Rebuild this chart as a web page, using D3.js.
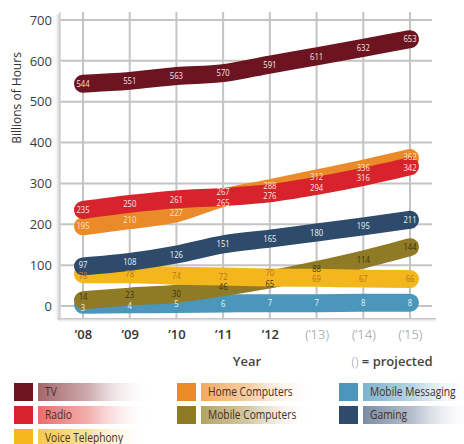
<!DOCTYPE html>
<html><head><meta charset="utf-8">
<script src="https://cdn.jsdelivr.net/npm/d3@7"></script>
<style>
body{margin:0;background:#fff;}
svg{display:block;}
</style></head>
<body>
<svg id="c" width="464" height="444"></svg>
<script>
const years = ["'08","'09","'10","'11","'12","'13","'14","'15"];
const yearLabels = ["\u201908","\u201909","\u201910","\u201911","\u201912","(\u201913)","(\u201914)","(\u201915)"];
const projected = [false,false,false,false,false,true,true,true];
const yTicks = [0,100,200,300,400,500,600,700];

const seriesNames = ["Mobile Messaging","Mobile Computers","Voice Telephony","Gaming","Home Computers","Radio","TV"];
const tv = [544,551,563,570,591,611,632,653];
const radio = [235,250,261,267,276,294,316,342];
const homeComputers = [195,210,227,265,288,312,336,362];
const gaming = [97,108,126,151,165,180,195,211];
const voiceTelephony = [78,78,74,72,70,69,67,66];
const mobileComputers = [14,23,30,46,65,88,114,144];
const mobileMessaging = [3,4,5,6,7,7,8,8];

const colors = {"TV":"#6c1520","Radio":"#d8232d","Home Computers":"#ea8a28","Gaming":"#2e4b6c",
  "Voice Telephony":"#f3b61c","Mobile Computers":"#8f7b25","Mobile Messaging":"#4a97bb"};
const tints = {"TV":"#a5676b","Radio":"#e96e6c","Home Computers":"#f2ab62","Gaming":"#7b8da6",
  "Voice Telephony":"#f6ca4e","Mobile Computers":"#b3a464","Mobile Messaging":"#7db3cf"};
const labelColors = {"TV":"#f3e6e6","Radio":"#fbe3e3","Home Computers":"#fde7cf","Gaming":"#eef2f7",
  "Voice Telephony":"#b8741e","Mobile Computers":"#3b3310","Mobile Messaging":"#e8f3f8"};

const valuesByName = {"TV":tv,"Radio":radio,"Home Computers":homeComputers,"Gaming":gaming,
  "Voice Telephony":voiceTelephony,"Mobile Computers":mobileComputers,"Mobile Messaging":mobileMessaging};

const legendCols = [["TV","Radio","Voice Telephony"],["Home Computers","Mobile Computers"],["Mobile Messaging","Gaming"]];

const svg = d3.select("#c");
const defs = svg.append("defs");
const x = d3.scalePoint().domain(years).range([83,410]);
const y = d3.scaleLinear().domain([0,700]).range([306,20]);

const font = "'Open Sans', 'Noto Sans', sans-serif";
const narrow = "'Open Sans','Noto Sans',sans-serif";

const blur = defs.append("filter").attr("id","soft");
blur.append("feGaussianBlur").attr("stdDeviation",0.5);

const lg = defs.append("linearGradient").attr("id","lsh").attr("x1","0").attr("x2","1");
lg.append("stop").attr("offset","0").attr("stop-color","#fff").attr("stop-opacity",0);
lg.append("stop").attr("offset","1").attr("stop-color","#c0c0c0");
const bg = defs.append("linearGradient").attr("id","bsh").attr("x1","0").attr("x2","0").attr("y1","0").attr("y2","1");
bg.append("stop").attr("offset","0").attr("stop-color","#b8b8b8");
bg.append("stop").attr("offset","1").attr("stop-color","#fff").attr("stop-opacity",0);

svg.append("rect").attr("x",54).attr("y",14).attr("width",6).attr("height",306).attr("fill","url(#lsh)");
svg.append("rect").attr("x",58).attr("y",318).attr("width",378).attr("height",5).attr("fill","url(#bsh)");

const grid = svg.append("g").attr("filter","url(#soft)");
grid.selectAll("line.h").data(yTicks).join("line")
  .attr("x1",60).attr("x2",432).attr("y1",d=>y(d)).attr("y2",d=>y(d))
  .attr("stroke","#c4c4c4").attr("stroke-width",2);
grid.selectAll("line.v").data(years).join("line")
  .attr("x1",d=>x(d)).attr("x2",d=>x(d)).attr("y1",12).attr("y2",318)
  .attr("stroke","#c4c4c4").attr("stroke-width",2);
svg.append("line").attr("x1",60).attr("x2",60).attr("y1",12).attr("y2",320).attr("stroke","#d0d0d0").attr("stroke-width",1.5);

const yAxis = d3.axisLeft(y).tickValues(yTicks).tickSize(0).tickPadding(0);
const ya = svg.append("g").attr("transform","translate(52,0)").call(yAxis);
ya.select(".domain").remove();
ya.selectAll("text").attr("font-family",font).attr("font-size",13).attr("fill","#3d3d3d");

svg.append("text").attr("transform","translate(21,98) rotate(-90)").attr("text-anchor","middle")
  .attr("font-family",font).attr("font-size",12).attr("fill","#333").text("Billions of Hours");

const xAxis = d3.axisBottom(x).tickSize(0).tickPadding(0).tickFormat((d,i)=>yearLabels[i]);
const xa = svg.append("g").attr("transform","translate(0,330)").call(xAxis);
xa.select(".domain").remove();
xa.selectAll("text").attr("font-family",font).attr("font-size",13)
  .attr("fill",(d,i)=>projected[i]?"#8a8a8a":"#333")
  .attr("font-weight",(d,i)=>projected[i]?300:600);

svg.append("text").attr("x",247).attr("y",366).attr("text-anchor","middle").attr("font-family",font)
  .attr("font-size",13).attr("font-weight",600).attr("fill","#444").text("Year");
const pj = svg.append("text").attr("x",392).attr("y",366).attr("text-anchor","middle").attr("font-family",font)
  .attr("font-size",13).attr("font-weight",600).attr("fill","#444");
pj.append("tspan").attr("fill","#999").attr("font-weight",300).text("()");
pj.append("tspan").text(" = projected");

const line = d3.line().x((d,i)=>x(years[i])).y(d=>y(d)).curve(d3.curveMonotoneX);
const bands = svg.append("g");
seriesNames.forEach(name=>{
  bands.append("path").datum(valuesByName[name]).attr("d",line)
    .attr("fill","none").attr("stroke",colors[name]).attr("stroke-width",18)
    .attr("stroke-linecap","round").attr("stroke-linejoin","round");
});

const minGap = 10.5;
const labels = [];
years.forEach((yr,i)=>{
  const col = seriesNames.map(name=>({name, v:valuesByName[name][i], x:x(yr), y:y(valuesByName[name][i])}));
  col.sort((a,b)=>a.y-b.y);
  for(let pass=0;pass<4;pass++){
    for(let k=1;k<col.length;k++){
      const gap = col[k].y - col[k-1].y;
      if(gap < minGap){ const d=(minGap-gap)/2; col[k-1].y-=d; col[k].y+=d; }
    }
  }
  labels.push(...col);
});
svg.append("g").selectAll("text").data(labels).join("text")
  .attr("transform",d=>`translate(${d.x},${d.y}) scale(0.85,1)`).attr("dy","0.35em").attr("text-anchor","middle")
  .attr("font-family",narrow).attr("font-size",9).attr("fill",d=>labelColors[d.name]).text(d=>d.v);

const colX = [14,177,339];
const rowY = [383,406,429];
legendCols.forEach((names,c)=>{
  names.forEach((name,r)=>{
    const g = svg.append("g");
    const id = "lg"+c+"_"+r;
    const gr = defs.append("linearGradient").attr("id",id).attr("x1","0").attr("x2","1");
    gr.append("stop").attr("offset","0").attr("stop-color",tints[name]);
    gr.append("stop").attr("offset","0.45").attr("stop-color",tints[name]).attr("stop-opacity",0.55);
    gr.append("stop").attr("offset","1").attr("stop-color","#fff").attr("stop-opacity",0);
    g.append("rect").attr("x",colX[c]).attr("y",rowY[r]).attr("width",19).attr("height",18).attr("fill",colors[name]);
    g.append("rect").attr("x",colX[c]+24).attr("y",rowY[r]).attr("width",112).attr("height",18).attr("fill","url(#"+id+")");
    g.append("text").attr("transform",`translate(${colX[c]+31},${rowY[r]+13}) scale(0.82,1)`)
      .attr("font-family",narrow).attr("font-size",12.5)
      .attr("fill","#4a2e26").text(name);
  });
});
</script>
</body></html>
